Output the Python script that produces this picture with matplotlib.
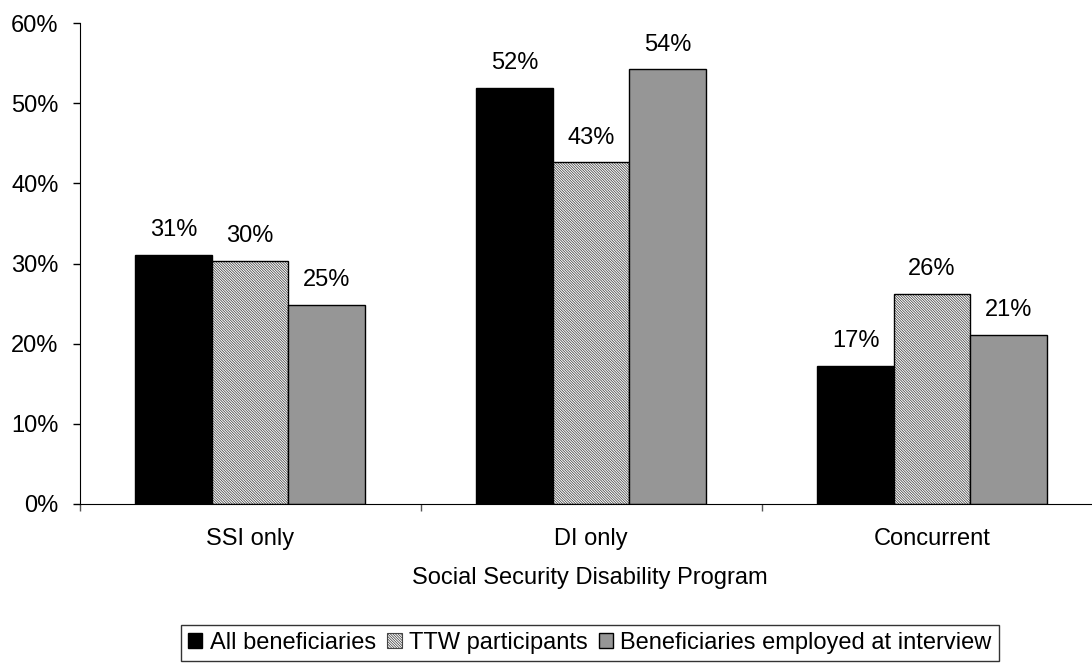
import matplotlib
matplotlib.use("Agg")
import matplotlib.pyplot as plt
from matplotlib.patches import Patch
from matplotlib.ticker import FuncFormatter, FixedLocator
import numpy as np

plt.rcParams['font.family'] = ['Liberation Sans', 'DejaVu Sans']
plt.rcParams['hatch.linewidth'] = 0.55

categories = ["SSI only", "DI only", "Concurrent"]
series = ["All beneficiaries", "TTW participants", "Beneficiaries employed at interview"]
all_benef = [31.1, 51.9, 17.2]
ttw = [30.3, 42.6, 26.2]
employed = [24.8, 54.2, 21.1]
labels_all = ["31%", "52%", "17%"]
labels_ttw = ["30%", "43%", "26%"]
labels_emp = ["25%", "54%", "21%"]

fs = 17
hatch = "\\" * 13

fig = plt.figure(figsize=(10.92, 6.65), dpi=100)
ax = fig.add_axes([79.5 / 1092, 161 / 665, (1092 - 79.5) / 1092, 481 / 665])

x = np.arange(len(categories))
w = 0.224

# black bars
ax.bar(x - w, all_benef, w, color="black", edgecolor="black", linewidth=1)
# hatched bars: pattern drawn first, then outline
ax.bar(x, ttw, w, color="white", edgecolor="#444444", hatch=hatch, linewidth=0)
ax.bar(x, ttw, w, fill=False, edgecolor="black", linewidth=1)
# gray bars
ax.bar(x + w, employed, w, color="#969696", edgecolor="black", linewidth=1)

for xs, vals, labs in ((x - w, all_benef, labels_all), (x, ttw, labels_ttw), (x + w, employed, labels_emp)):
	for xi, v, lab in zip(xs, vals, labs):
		ax.annotate(lab, (xi, v), xytext=(0, 10), textcoords="offset points",
			ha="center", va="bottom", fontsize=fs)

ax.set_ylim(0, 60)
ax.set_xlim(-0.5, (1092 - 79.5) / 341 - 0.5)
ax.set_yticks(np.arange(0, 61, 10))
ax.yaxis.set_major_formatter(FuncFormatter(lambda v, _: "%d%%" % v))
ax.tick_params(axis="y", direction="out", length=5, width=1, pad=10, labelsize=fs)

ax.xaxis.set_major_locator(FixedLocator([-0.5, 0.5, 1.5]))
ax.xaxis.set_minor_locator(FixedLocator(list(x)))
ax.set_xticklabels([], minor=False)
ax.set_xticklabels(categories, minor=True)
ax.tick_params(axis="x", which="major", direction="out", length=5, width=1, color="#555555")
ax.tick_params(axis="x", which="minor", length=0, pad=17, labelsize=fs)

for s in ("top", "right"):
	ax.spines[s].set_visible(False)

fig.text(590 / 1092, 1 - 578 / 665, "Social Security Disability Program", ha="center", va="center", fontsize=fs)

handles = [
	Patch(facecolor="black", edgecolor="black", linewidth=1),
	Patch(facecolor="white", edgecolor="#444444", hatch=hatch, linewidth=0.8),
	Patch(facecolor="#969696", edgecolor="black", linewidth=1),
]
leg = fig.legend(handles, series, ncol=3, loc="upper center", bbox_to_anchor=(590 / 1092, 1 - 625 / 665),
	fontsize=fs, frameon=True, fancybox=False, edgecolor="black", handlelength=0.6, handleheight=0.6,
	handletextpad=0.3, columnspacing=0.5, borderpad=0.3, borderaxespad=0)
leg.get_frame().set_linewidth(1)

fig.savefig("out.png", dpi=100)
